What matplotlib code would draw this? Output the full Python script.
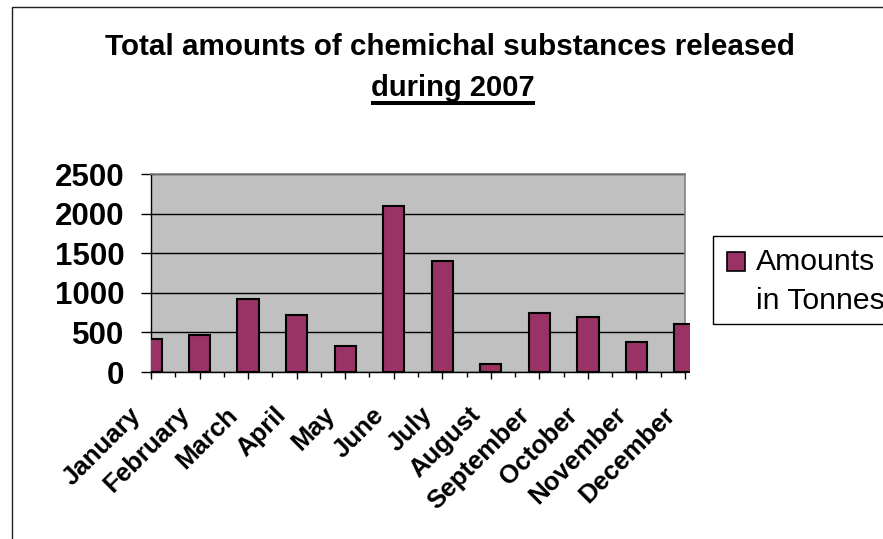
import matplotlib
matplotlib.use("Agg")
import matplotlib.pyplot as plt
from matplotlib.patches import Rectangle
from matplotlib.lines import Line2D
from matplotlib.transforms import ScaledTranslation, blended_transform_factory, Bbox
from matplotlib.ticker import MultipleLocator

months = ["January", "February", "March", "April", "May", "June", "July",
          "August", "September", "October", "November", "December"]
amounts = [420, 470, 920, 720, 325, 2100, 1400, 100, 750, 700, 375, 600]
series_name = ["Amounts", "in Tonnes"]
title_line1 = "Total amounts of chemichal substances released"
title_line2 = "during 2007"
y_ticks = [0, 500, 1000, 1500, 2000, 2500]

plt.rcParams['font.family'] = ['Liberation Sans', 'DejaVu Sans']

W, H = 883, 539
fig = plt.figure(figsize=(W / 100, H / 100), dpi=100)
fig.subplots_adjust(left=151 / W, right=685 / W, bottom=1 - 372 / H, top=1 - 174 / H)
ax = fig.add_subplot(111)

BAR = "#993366"
ax.set_facecolor("#c0c0c0")
x = list(range(len(months)))
bars = ax.bar(x, amounts, width=0.44, color=BAR, edgecolor="black", linewidth=1.5, zorder=3)

ax.set_xlim(0, len(months) - 1)
ax.set_ylim(0, 2500)
ax.set_yticks(y_ticks)
ax.set_yticklabels([str(v) for v in y_ticks], fontsize=22.5, fontweight="bold")
ax.grid(axis="y", color="black", linewidth=1.0, zorder=1)
ax.set_axisbelow(True)

ax.set_xticks(x)
ax.set_xticklabels([])
ax.xaxis.set_minor_locator(MultipleLocator(0.5))
ax.tick_params(axis="x", which="major", length=5, width=1, direction="out")
ax.tick_params(axis="x", which="minor", length=3.6, width=1, direction="out")
ax.tick_params(axis="y", which="major", length=7, width=1, direction="out", pad=12)

for s in ["top", "right"]:
    ax.spines[s].set_color("#808080")
    ax.spines[s].set_linewidth(1.2)
for s in ["left", "bottom"]:
    ax.spines[s].set_color("black")
    ax.spines[s].set_linewidth(1.0)

# month labels
trans = blended_transform_factory(ax.transData, ax.transAxes) + \
    ScaledTranslation(-9 / 100, -44 / 100, fig.dpi_scale_trans)
for i, m in enumerate(months):
    ax.text(i, 0, m, transform=trans, rotation=45, rotation_mode="anchor",
            ha="right", va="baseline", fontsize=18.5, fontweight="bold", clip_on=False)

# slightly wider clip on the right, as in the reference
clip = Bbox.from_extents(151, 0, 690, H)
for b in bars:
    b.set_clip_box(clip)

# title
fig.text(450 / W, 1 - 55 / H, title_line1, ha="center", va="baseline",
         fontsize=21.3, fontweight="bold")
t2 = fig.text(453 / W, 1 - 96 / H, title_line2, ha="center", va="baseline",
              fontsize=21.0, fontweight="bold")
fig.canvas.draw()
bb = t2.get_window_extent()
fig.add_artist(Line2D([bb.x0 / W, bb.x1 / W], [1 - 103 / H, 1 - 103 / H],
                      transform=fig.transFigure, color="black", linewidth=2.9,
                      solid_capstyle="butt"))

# legend
fig.add_artist(Rectangle((713 / W, 1 - 324 / H), 200 / W, 88 / H, transform=fig.transFigure,
                         facecolor="white", edgecolor="black", linewidth=1.0))
fig.add_artist(Rectangle((727 / W, 1 - 271 / H), 18 / W, 19 / H, transform=fig.transFigure,
                         facecolor=BAR, edgecolor="black", linewidth=1.2))
fig.text(756 / W, 1 - 270 / H, series_name[0], fontsize=21.7, va="baseline", ha="left")
fig.text(756 / W, 1 - 309 / H, series_name[1], fontsize=21.7, va="baseline", ha="left")

# outer chart border
fig.add_artist(Line2D([12 / W, 12 / W, 1], [0, 1 - 7 / H, 1 - 7 / H],
                      transform=fig.transFigure, color="#202020", linewidth=1.0))

fig.savefig("out.png", dpi=100)
